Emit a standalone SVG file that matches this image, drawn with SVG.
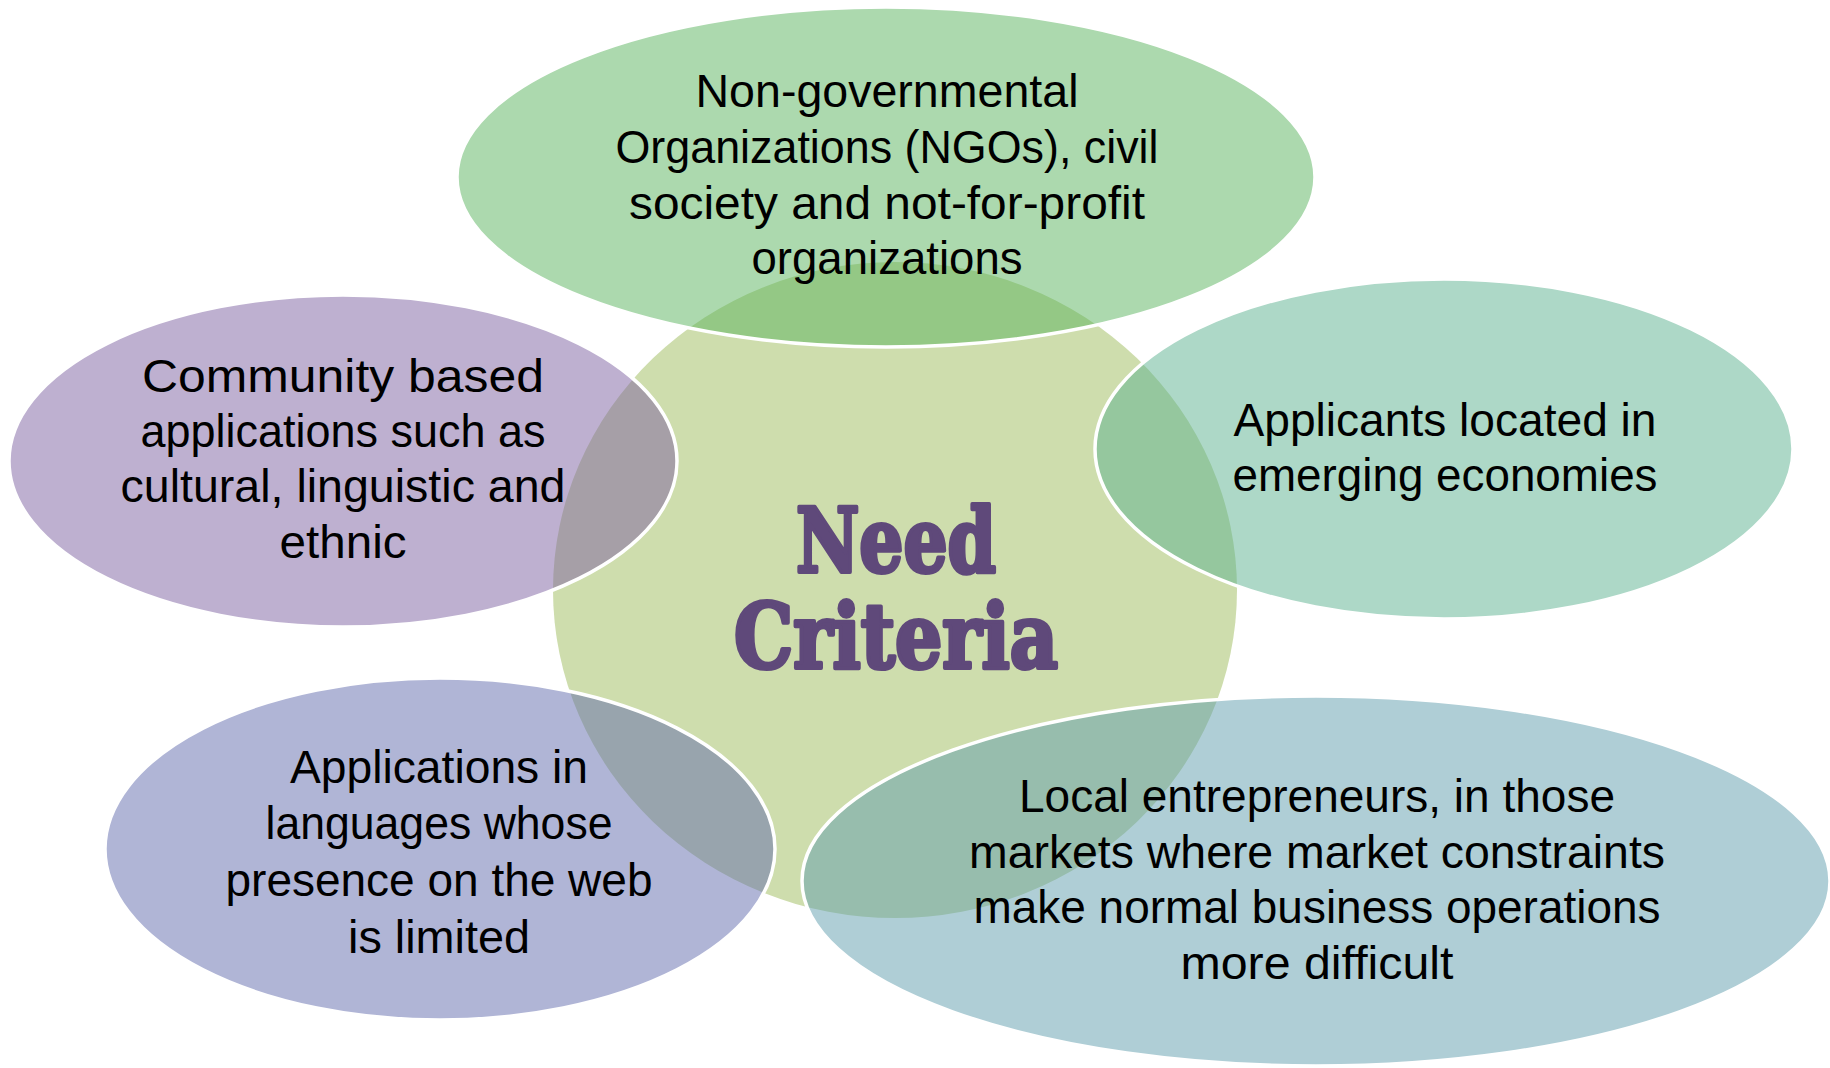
<svg xmlns="http://www.w3.org/2000/svg" width="1830" height="1068" viewBox="0 0 1830 1068">
<style>
.bub{stroke:#FFFFFF;stroke-width:3.5;fill-opacity:0.5}
.t{font-family:"Liberation Sans",Arial,sans-serif;font-size:46px;fill:#000000;text-anchor:middle}
.c{font-family:"DejaVu Serif",serif;font-weight:900;font-stretch:condensed;font-size:90px;fill:#5F497A;stroke:#5F497A;stroke-width:4;stroke-linejoin:round;text-anchor:middle}
</style>
<rect width="1830" height="1068" fill="#FFFFFF"/>
<g id="center">
<ellipse cx="895" cy="590" rx="342" ry="328" fill="#CEDDAD"/>
<text class="c" x="896" y="572" textLength="200" lengthAdjust="spacingAndGlyphs">Need</text>
<text class="c" x="896" y="668" textLength="324" lengthAdjust="spacingAndGlyphs">Criteria</text>
</g>
<g id="connectors"></g>
<g id="ngo">
<ellipse class="bub" cx="886" cy="177" rx="429" ry="170" fill="#59B35D"/>
<text class="t" x="887" y="107" textLength="383" lengthAdjust="spacingAndGlyphs">Non-governmental</text>
<text class="t" x="887" y="163" textLength="543" lengthAdjust="spacingAndGlyphs">Organizations (NGOs), civil</text>
<text class="t" x="887" y="219" textLength="516" lengthAdjust="spacingAndGlyphs">society and not-for-profit</text>
<text class="t" x="887" y="274" textLength="271" lengthAdjust="spacingAndGlyphs">organizations</text>
</g>
<g id="community">
<ellipse class="bub" cx="343" cy="461" rx="334" ry="166" fill="#7D61A1"/>
<text class="t" x="343" y="392" textLength="402" lengthAdjust="spacingAndGlyphs">Community based</text>
<text class="t" x="343" y="447" textLength="405" lengthAdjust="spacingAndGlyphs">applications such as</text>
<text class="t" x="343" y="502" textLength="445" lengthAdjust="spacingAndGlyphs">cultural, linguistic and</text>
<text class="t" x="343" y="558" textLength="127" lengthAdjust="spacingAndGlyphs">ethnic</text>
</g>
<g id="emerging">
<ellipse class="bub" cx="1444" cy="449" rx="349" ry="170" fill="#5BB18F"/>
<text class="t" x="1445" y="436" textLength="423" lengthAdjust="spacingAndGlyphs">Applicants located in</text>
<text class="t" x="1445" y="491" textLength="425" lengthAdjust="spacingAndGlyphs">emerging economies</text>
</g>
<g id="languages">
<ellipse class="bub" cx="440" cy="849" rx="335" ry="171" fill="#616BAD"/>
<text class="t" x="439" y="783" textLength="298" lengthAdjust="spacingAndGlyphs">Applications in</text>
<text class="t" x="439" y="839" textLength="347" lengthAdjust="spacingAndGlyphs">languages whose</text>
<text class="t" x="439" y="896" textLength="427" lengthAdjust="spacingAndGlyphs">presence on the web</text>
<text class="t" x="439" y="953" textLength="182" lengthAdjust="spacingAndGlyphs">is limited</text>
</g>
<g id="entrepreneurs">
<ellipse class="bub" cx="1316" cy="881" rx="514" ry="185" fill="#5F9DAD"/>
<text class="t" x="1317" y="812" textLength="596" lengthAdjust="spacingAndGlyphs">Local entrepreneurs, in those</text>
<text class="t" x="1317" y="868" textLength="696" lengthAdjust="spacingAndGlyphs">markets where market constraints</text>
<text class="t" x="1317" y="923" textLength="687" lengthAdjust="spacingAndGlyphs">make normal business operations</text>
<text class="t" x="1317" y="979" textLength="273" lengthAdjust="spacingAndGlyphs">more difficult</text>
</g>
</svg>
